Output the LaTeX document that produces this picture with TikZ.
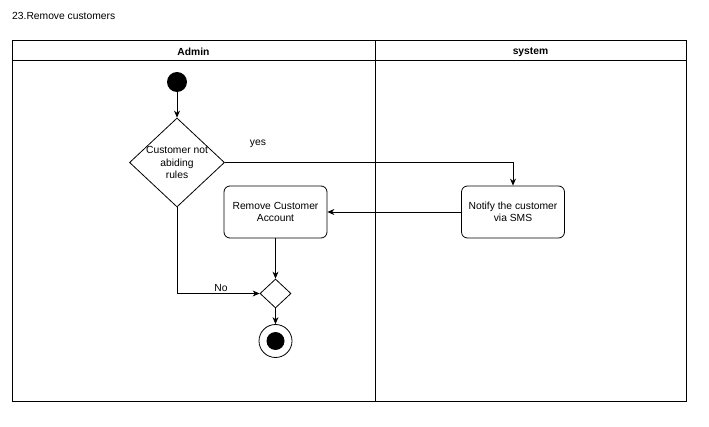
\documentclass[tikz,border=0pt]{standalone}
\usepackage{fontspec}
\setmainfont{Liberation Sans}
\usetikzlibrary{shapes.geometric,arrows.meta}

\tikzset{
    txt/.style={font=\fontsize{10.3}{12.4}\selectfont, align=center},
    act/.style={txt, rectangle, rounded corners=6pt, draw, line width=0.8pt, minimum width=103pt, minimum height=52pt},
    decision/.style={txt, diamond, draw, line width=0.8pt, inner sep=-3pt, minimum width=95pt, minimum height=89pt},
    mergebox/.style={diamond, draw, line width=0.8pt, inner sep=0pt, minimum width=31pt, minimum height=29pt},
    flow/.style={-{Stealth[length=7pt,width=6pt]}, line width=0.8pt},
    lanehead/.style={txt, font=\fontsize{10.3}{12.4}\selectfont\bfseries}
}

\begin{document}
\begin{tikzpicture}[x=1pt, y=-1pt]
    \useasboundingbox (0,0) rectangle (709,427);

    \node[txt, anchor=west, inner sep=0pt] (title) at (12,16) {23.Remove customers};

    % swimlanes
    \draw[line width=1pt] (12,41) rectangle (686,401);
    \draw[line width=1pt] (12,61) -- (686,61);
    \draw[line width=1pt] (375,41) -- (375,401);
    \node[lanehead] (admin) at (193.5,52) {Admin};
    \node[lanehead] (system) at (530.5,52) {system};

    \node[circle, fill=black, minimum size=20pt, inner sep=0pt] (start) at (177,82) {};
    \node[decision] (decide) at (177,162.5) {Customer not\\abiding\\rules};
    \node[act] (notify) at (513,212) {Notify the customer\\via SMS};
    \node[act] (remove) at (275.5,212) {Remove Customer\\Account};
    \node[mergebox] (merge) at (275.5,293.5) {};
    \node[circle, draw, line width=0.8pt, minimum size=33pt, inner sep=0pt] (stop) at (275.5,341) {};
    \node[circle, fill=black, minimum size=18pt, inner sep=0pt] (stopdot) at (stop) {};

    \node[txt] (yes) at (258,144) {yes};
    \node[txt] (no) at (221,288) {No};

    \draw[flow] (start) -- (decide);
    \draw[flow] (decide.east) -| (notify.north);
    \draw[flow] (notify.west) -- (remove.east);
    \draw[flow] (remove.south) -- (merge.north);
    \draw[flow] (decide.south) |- (merge.west);
    \draw[flow] (merge.south) -- (stop.north);
\end{tikzpicture}
\end{document}
